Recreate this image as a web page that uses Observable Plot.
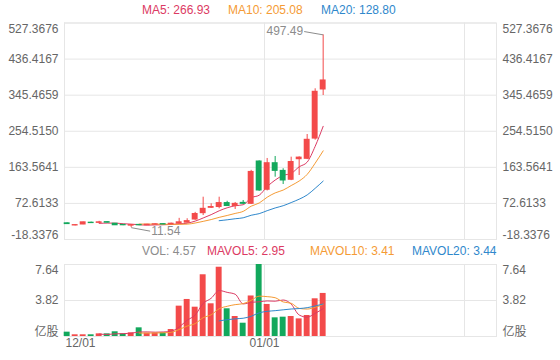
<!DOCTYPE html>
<html><head><meta charset="utf-8">
<script src="https://cdn.jsdelivr.net/npm/d3@7"></script>
<script src="https://cdn.jsdelivr.net/npm/@observablehq/plot@0.6"></script>
<style>
body{margin:0;background:#fff;font-family:"Liberation Sans",Arial,"Noto Sans CJK SC",sans-serif;}
#wrap{position:relative;width:560px;height:360px;overflow:hidden;}
#wrap svg{display:block;}
.leg{position:absolute;font-size:12px;white-space:nowrap;line-height:14px;}
</style></head><body>
<div id="wrap"></div>
<script>
// ---- data ----
const opens  = [22.5, 17, 19.5, 24, 23.5, 25.5, 21.5, 18.5, 16.5, 18.5, 17.5, 19, 20.5, 20, 21.5, 24, 32, 48, 61.5, 63.5, 73.5, 66, 74, 71.6, 178.3, 107, 174, 154.6, 132.2, 184, 185, 236, 359.8];
const closes = [20.5, 18, 25, 23, 25, 24, 17.5, 17.5, 18, 17.5, 19, 20, 19.5, 21.5, 25, 28, 46, 59, 63.5, 73.5, 66, 71.5, 71.6, 152, 105.2, 174, 154.6, 130.4, 177, 188.1, 233, 354, 382.55];
const highs  = [23.5, 19, 25.5, 25.5, 27.5, 26.5, 22, 19.5, 19, 19.5, 20, 21, 21.5, 23, 35, 34, 50, 88.3, 71.7, 88.3, 78, 75, 80, 156, 180, 185.9, 190.9, 160, 189.2, 190, 246.3, 361.5, 497.49];
const lows   = [19.5, 16, 19, 22, 22.5, 23, 17, 16.5, 11.54, 16.5, 17, 18.5, 19, 19.5, 21, 23, 30, 42, 60, 59, 65, 57.3, 70, 70, 103, 104, 138.7, 120.3, 130, 143, 183, 232, 344.6];
const volumes = [0.46, 0.18, 0.18, 0.18, 0.28, 0.28, 0.5, 0.28, 0.39, 0.92, 0.35, 0.35, 0.39, 0.74, 3.22, 3.93, 3.11, 6.55, 3.47, 7.35, 2.94, 2.12, 1.41, 4.3, 7.64, 3.4, 1.98, 2.05, 2.12, 1.87, 2.23, 4.0, 4.57];

const priceTicks = [-18.3376, 72.6133, 163.5641, 254.5150, 345.4659, 436.4167, 527.3676];
const priceTickLabels = ["-18.3376", "72.6133", "163.5641", "254.5150", "345.4659", "436.4167", "527.3676"];
const volTicks = [0, 3.82, 7.64];
const volTickLabels = ["亿股", "3.82", "7.64"];
const dateTickPos = [-1/3, 24 + 2/3, 49 + 2/3];
const dateTickLabels = ["12/01", "01/01", "02/01"];
const maPeriods = [5, 10, 20];
const maLegend = ["MA5: 266.93", "MA10: 205.08", "MA20: 128.80"];
const volLegend = ["VOL: 4.57", "MAVOL5: 2.95", "MAVOL10: 3.41", "MAVOL20: 3.44"];

// ---- styles ----
const UP = "#f34a4a", DOWN = "#12a85c";
const MA_COLORS = ["#dc3a63", "#f59b35", "#2f88cc"];
const GRID = "#e6e6e6", LABEL = "#666", NOTE = "#8c8c8c";
const FONT = '"Liberation Sans", Arial, "Noto Sans CJK SC", sans-serif';
const xDomain = [-1/3, 53 + 2/3];

const candles = opens.map((o, i) => ({i, o, c: closes[i], h: highs[i], l: lows[i], v: volumes[i]}));
const col = d => d.c >= d.o ? UP : DOWN;

const W = 560, ML = 64, MR = 64;
const MAIN_H = 245, MAIN_T = 22.5, MAIN_B = 6;
const ux = (xDomain[1] - xDomain[0]) / (W - ML - MR);
const uy = (priceTicks[6] - priceTicks[0]) / (MAIN_H - MAIN_T - MAIN_B);

// extremes
const iHi = d3.maxIndex(highs), iLo = d3.minIndex(lows);
const notes = [
  {x1: iHi, y1: highs[iHi], x2: iHi - 19 * ux, y2: highs[iHi] + 3.3 * uy, t: highs[iHi].toFixed(2), anchor: "end", dx: -1},
  {x1: iLo, y1: lows[iLo], x2: iLo + 19 * ux, y2: lows[iLo] - 3.5 * uy, t: lows[iLo].toFixed(2), anchor: "start", dx: 1}
];

const yLabelMarks = (ticks, labels) => {
  const n = ticks.length;
  const mk = [];
  for (const side of ["left", "right"]) {
    const base = {frameAnchor: side, textAnchor: side === "left" ? "end" : "start", dx: side === "left" ? -6 : 6, fill: LABEL, fontSize: 12};
    mk.push(Plot.text([0], {...base, y: () => ticks[0], text: () => labels[0], lineAnchor: "bottom", dy: -1}));
    mk.push(Plot.text(d3.range(1, n - 1), {...base, y: k => ticks[k], text: k => labels[k]}));
    mk.push(Plot.text([n - 1], {...base, y: () => ticks[n - 1], text: () => labels[n - 1], lineAnchor: "top", dy: 1}));
  }
  return mk;
};

const mainPlot = Plot.plot({
  width: W, height: MAIN_H,
  marginLeft: ML, marginRight: MR, marginTop: MAIN_T, marginBottom: MAIN_B,
  style: {fontFamily: FONT, fontSize: "12px", background: "transparent", overflow: "visible"},
  x: {domain: xDomain, axis: null},
  y: {domain: [priceTicks[0], priceTicks[6]], axis: null},
  marks: [
    Plot.ruleY(priceTicks, {stroke: GRID}),
    Plot.ruleX(dateTickPos, {stroke: GRID}),
    Plot.frame({stroke: GRID}),
    ...yLabelMarks(priceTicks, priceTickLabels),
    ...maPeriods.map((k, j) => Plot.lineY(candles, Plot.windowY({k, anchor: "end", strict: true}, {x: "i", y: "c", stroke: MA_COLORS[j], strokeWidth: 1, curve: "monotone-x"}))),
    Plot.ruleX(candles, {x: "i", y1: "l", y2: "h", stroke: col, strokeWidth: 1}),
    Plot.rect(candles, {x1: d => d.i - 0.37, x2: d => d.i + 0.37, y1: d => Math.min(d.o, d.c), y2: d => Math.max(d.o, d.c), fill: col, insetTop: -0.5, insetBottom: -0.5}),
    Plot.link(notes, {x1: "x1", y1: "y1", x2: "x2", y2: "y2", stroke: NOTE, strokeWidth: 1}),
    Plot.text(notes.filter(n => n.anchor === "end"), {x: "x2", y: "y2", text: "t", textAnchor: "end", dx: -1, fill: NOTE, fontSize: 12}),
    Plot.text(notes.filter(n => n.anchor === "start"), {x: "x2", y: "y2", text: "t", textAnchor: "start", dx: 1, fill: NOTE, fontSize: 12})
  ]
});

const VOL_H = 115, VOL_T = 19, VOL_B = 24;
const volPlot = Plot.plot({
  width: W, height: VOL_H,
  marginLeft: ML, marginRight: MR, marginTop: VOL_T, marginBottom: VOL_B,
  style: {fontFamily: FONT, fontSize: "12px", background: "transparent", overflow: "visible"},
  x: {domain: xDomain, axis: null},
  y: {domain: [volTicks[0], volTicks[2]], axis: null},
  marks: [
    Plot.ruleY(volTicks, {stroke: GRID}),
    Plot.ruleX(dateTickPos, {stroke: GRID}),
    Plot.frame({stroke: GRID}),
    ...yLabelMarks(volTicks, volTickLabels),
    Plot.rect(candles, {x1: d => d.i - 0.37, x2: d => d.i + 0.37, y1: 0, y2: "v", fill: col}),
    ...maPeriods.map((k, j) => Plot.lineY(candles, Plot.windowY({k, anchor: "end", strict: true}, {x: "i", y: "v", stroke: MA_COLORS[j], strokeWidth: 1, curve: "monotone-x"}))),
    Plot.text([0], {x: () => dateTickPos[0], text: () => dateTickLabels[0], frameAnchor: "bottom", textAnchor: "start", dx: 1, dy: 10, fill: LABEL, fontSize: 12}),
    Plot.text([1], {x: () => dateTickPos[1], text: () => dateTickLabels[1], frameAnchor: "bottom", textAnchor: "middle", dy: 10, fill: LABEL, fontSize: 12})
  ]
});

const wrap = document.getElementById("wrap");
wrap.appendChild(mainPlot);
wrap.appendChild(volPlot);

const addLegend = (texts, colors, lefts, top) => {
  texts.forEach((t, k) => {
    const s = document.createElement("div");
    s.className = "leg";
    s.textContent = t;
    s.style.color = colors[k];
    s.style.left = lefts[k] + "px";
    s.style.top = top + "px";
    wrap.appendChild(s);
  });
};
addLegend(maLegend, MA_COLORS, [142, 228, 321], 2.5);
addLegend(volLegend, [NOTE, ...MA_COLORS], [142, 207, 310, 412], 244);
</script>
</body></html>
